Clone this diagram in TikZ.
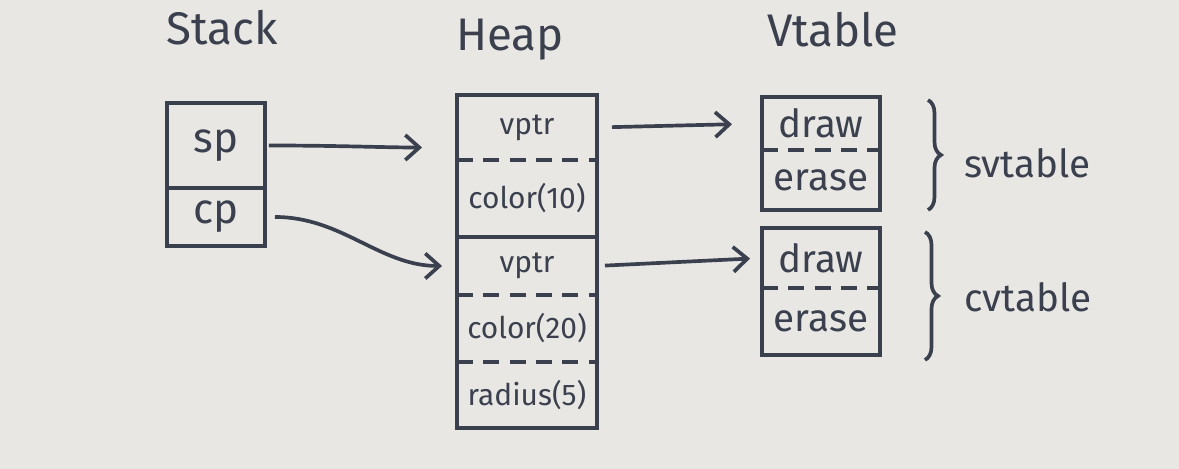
\documentclass[tikz,border=0pt]{standalone}
\usepackage{fontspec}
\setmainfont{Fira Sans}
\definecolor{paper}{RGB}{233,231,227}
\definecolor{ink}{RGB}{58,64,78}
\usetikzlibrary{arrows.meta,positioning,calc,decorations.pathreplacing}

\begin{document}
\begin{tikzpicture}[x=0.02cm,y=-0.02cm,
      inkline/.style={draw=ink,line width=2.1pt},
      sepline/.style={draw=ink,line width=2.1pt,dash pattern=on 9pt off 6pt},
      title/.style={text=ink,font=\fontsize{26}{30}\selectfont},
      lbl/.style={text=ink,font=\fontsize{22}{26}\selectfont,anchor=west},
      stk/.style={draw=ink,line width=2.1pt,minimum width=1.96cm,inner sep=0pt,outer sep=0pt,
                  text=ink,font=\fontsize{24}{28}\selectfont},
      heap/.style={minimum width=2.8cm,inner sep=0pt,outer sep=0pt,
                   text=ink,font=\fontsize{17}{20}\selectfont},
      vt/.style={minimum width=2.36cm,inner sep=0pt,outer sep=0pt,
                 text=ink,font=\fontsize{22}{26}\selectfont},
      ptr/.style={draw=ink,line width=2.1pt,-{Straight Barb[length=2.8mm,width=5mm]}},
      brc/.style={draw=ink,line width=2.1pt,decorate,decoration={brace,amplitude=0.26cm}}]
      \fill[paper] (0,0) rectangle (1179,469);
      \useasboundingbox (0,0) rectangle (1179,469);

      % titles
      \node[title] (stack) at (222,28) {Stack};
      \node[title] (heaptitle) at (510,40) {Heap};
      \node[title] (vtable) at (833,30) {Vtable};

      % stack
      \node[stk,minimum height=1.7cm] (sp) at (216,145.5) {sp};
      \node[stk,minimum height=1.16cm,below=0pt of sp] (cp) {cp};

      % heap
      \node[heap,minimum height=1.3cm] (vp1) at (527,127.5) {vptr};
      \node[heap,minimum height=1.54cm,below=0pt of vp1] (c1) {color(10)};
      \node[heap,minimum height=1.16cm,below=0pt of c1] (vp2) {vptr};
      \node[heap,minimum height=1.34cm,below=0pt of vp2] (c2) {color(20)};
      \node[heap,minimum height=1.32cm,below=0pt of c2] (rad) {radius(5)};
      \draw[inkline] (vp1.north west) rectangle (c1.south east);
      \draw[inkline] (vp2.north west) rectangle (rad.south east);
      \draw[sepline] (vp1.south west) -- (vp1.south east);
      \draw[sepline] (vp2.south west) -- (vp2.south east);
      \draw[sepline] (c2.south west) -- (c2.south east);

      % vtables
      \node[vt,minimum height=1.06cm] (d1) at (821,123.5) {draw};
      \node[vt,minimum height=1.2cm,below=0pt of d1] (e1) {erase};
      \node[vt,minimum height=1.2cm,below=0.36cm of e1] (d2) {draw};
      \node[vt,minimum height=1.34cm,below=0pt of d2] (e2) {erase};
      \draw[inkline] (d1.north west) rectangle (e1.south east);
      \draw[inkline] (d2.north west) rectangle (e2.south east);
      \draw[sepline] (d1.south west) -- (d1.south east);
      \draw[sepline] (d2.south west) -- (d2.south east);

      % braces
      \coordinate (b1a) at ($(d1.north east)+(48,3)$);
      \coordinate (b1b) at ($(e1.south east)+(48,0)$);
      \coordinate (b2a) at ($(d2.north east)+(45,4)$);
      \coordinate (b2b) at ($(e2.south east)+(45,5)$);
      \draw[brc] (b1a) -- (b1b);
      \draw[brc] (b2a) -- (b2b);
      \node[lbl] (sv) at (958,163) {svtable};
      \node[lbl] (cv) at (958,297) {cvtable};

      % pointers
      \draw[ptr,shorten <=0.08cm,shorten >=0.7cm] (sp.east) to[out=0,in=180] ($(vp1.west)+(0,20)$);
      \draw[ptr,shorten <=0.2cm,shorten >=0.3cm] (cp.east) to[out=0,in=180] (vp2.west);
      \draw[ptr,shorten <=0.3cm,shorten >=0.6cm] (vp1.east) -- (d1.west);
      \draw[ptr,shorten <=0.16cm,shorten >=0.24cm] (vp2.east) -- (d2.west);
    \end{tikzpicture}
\end{document}
